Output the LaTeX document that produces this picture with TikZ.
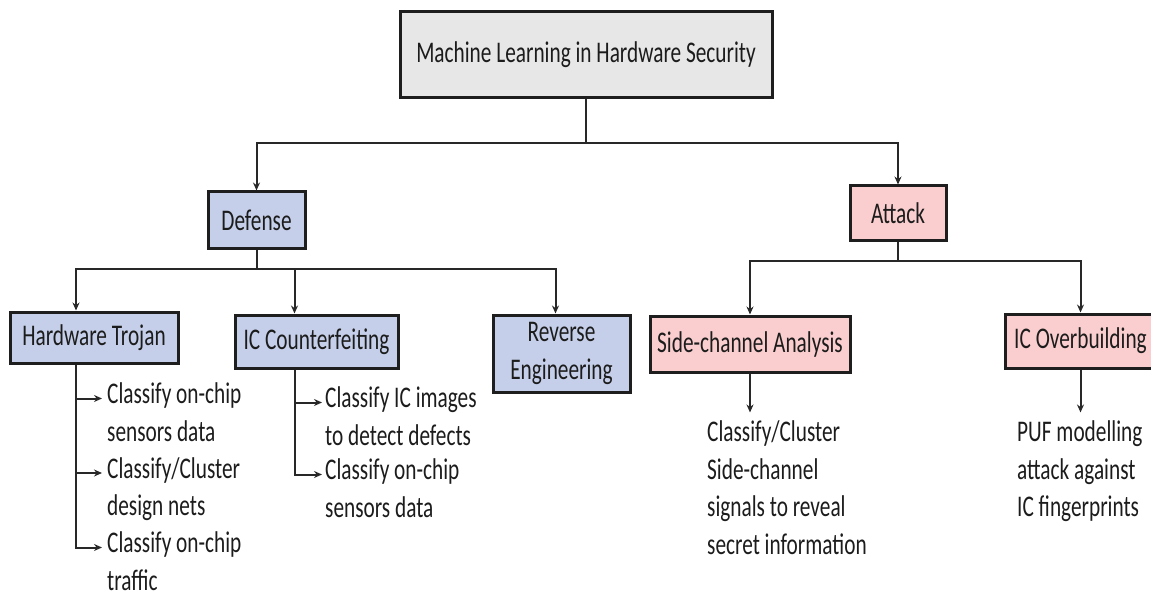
\documentclass[tikz,border=0pt]{standalone}
\usepackage{fontspec}
\setmainfont{Carlito}[FakeStretch=0.71]
\usetikzlibrary{arrows.meta,positioning}
\definecolor{rootfill}{RGB}{231,231,231}
\definecolor{deffill}{RGB}{197,207,233}
\definecolor{attfill}{RGB}{250,206,206}
\definecolor{boxline}{RGB}{30,30,30}
\definecolor{txt}{RGB}{28,28,28}
\definecolor{linecol}{RGB}{40,40,40}
\newcommand{\mlfont}{\fontsize{30}{37.5}\selectfont}
\tikzset{
  every picture/.style={line join=miter, >={Stealth[length=8pt,width=7pt]}},
  % Kästen
  box/.style={draw=boxline, line width=3pt, inner sep=0pt, font=\mlfont, text=txt, align=center},
  rootbox/.style={box, fill=rootfill},
  defbox/.style={box, fill=deffill},
  attbox/.style={box, fill=attfill},
  % Blatttexte ohne Rahmen (base = letzte Zeile)
  leaf/.style={inner sep=0pt, anchor=base west, align=left, font=\mlfont, text=txt},
  % Verbindungen
  link/.style={draw=linecol, line width=2pt},
}
\begin{document}
\begin{tikzpicture}[x=1pt, y=-1pt]
  \useasboundingbox (0,0) rectangle (1151,596);
  % Wurzel und erste Ebene
  \node[rootbox, minimum width=372pt, minimum height=86pt] (root) at (586,55) {Machine Learning in Hardware Security};
  \node[defbox, minimum width=97pt, minimum height=56pt] (def) at (256.5,220) {Defense};
  \node[attbox, minimum width=96pt, minimum height=54pt] (att) at (898,213) {Attack};
  % zweite Ebene
  \node[defbox, minimum width=168pt, minimum height=51pt] (ht) at (94,337.5) {Hardware Trojan};
  \node[defbox, minimum width=163pt, minimum height=53pt] (icc) at (316.5,341.5) {IC Counterfeiting};
  \node[defbox, minimum width=137pt, minimum height=77pt] (re) at (561.5,353.5) {Reverse\\Engineering};
  \node[attbox, minimum width=200pt, minimum height=56pt] (sc) at (750,344) {Side-channel Analysis};
  \node[attbox, minimum width=151pt, minimum height=54pt] (ico) at (1080.5,341) {IC Overbuilding};
  % Blätter
  \node[leaf] (ht1) at (107,441) {Classify on-chip\\sensors data};
  \node[leaf] (ht2) at (107,515.5) {Classify/Cluster\\design nets};
  \node[leaf] (ht3) at (107,590) {Classify on-chip\\traffic};
  \node[leaf] (icc1) at (325,445) {Classify IC images\\to detect defects};
  \node[leaf] (icc2) at (325,517) {Classify on-chip\\sensors data};
  \node[leaf] (sc1) at (707,554) {Classify/Cluster\\Side-channel\\signals to reveal\\secret information};
  \node[leaf] (ico1) at (1017,516.5) {PUF modelling\\attack against\\IC fingerprints};
  % Verzweigungen
  \path (root.south) ++(0,44) coordinate (rj);
  \path (def.south) ++(0,19) coordinate (dj);
  \path (att.south) ++(0,19) coordinate (aj);
  \draw[link] (root.south) -- (rj);
  \draw[link, ->] (rj) -| (def.north);
  \draw[link, ->] (rj) -| (att.north);
  \draw[link] (def.south) -- (dj);
  \draw[link, ->] (dj) -| ([xshift=-18pt]ht.north);
  \draw[link, ->] (dj) -| ([xshift=-22pt]icc.north);
  \draw[link, ->] (dj) -| ([xshift=-6pt]re.north);
  \draw[link] (att.south) -- (aj);
  \draw[link, ->] (aj) -| (sc.north);
  \draw[link, ->] (aj) -| (ico.north);
  % Stämme zu den Blättern
  \draw[link, ->] ([xshift=-18pt]ht.south) |- ([xshift=-5pt,yshift=42.5pt]ht1.base west);
  \draw[link, ->] ([xshift=-18pt]ht.south) |- ([xshift=-5pt,yshift=42.5pt]ht2.base west);
  \draw[link, ->] ([xshift=-18pt]ht.south) |- ([xshift=-5pt,yshift=42.5pt]ht3.base west);
  \draw[link, ->] ([xshift=-22pt]icc.south) |- ([xshift=-3pt,yshift=42.5pt]icc1.base west);
  \draw[link, ->] ([xshift=-22pt]icc.south) |- ([xshift=-3pt,yshift=42.5pt]icc2.base west);
  \draw[link, ->, shorten >=8pt] (sc.south) -- (sc.south |- sc1.north);
  \draw[link, ->, shorten >=8pt] (ico.south) -- (ico.south |- ico1.north);
\end{tikzpicture}
\end{document}
